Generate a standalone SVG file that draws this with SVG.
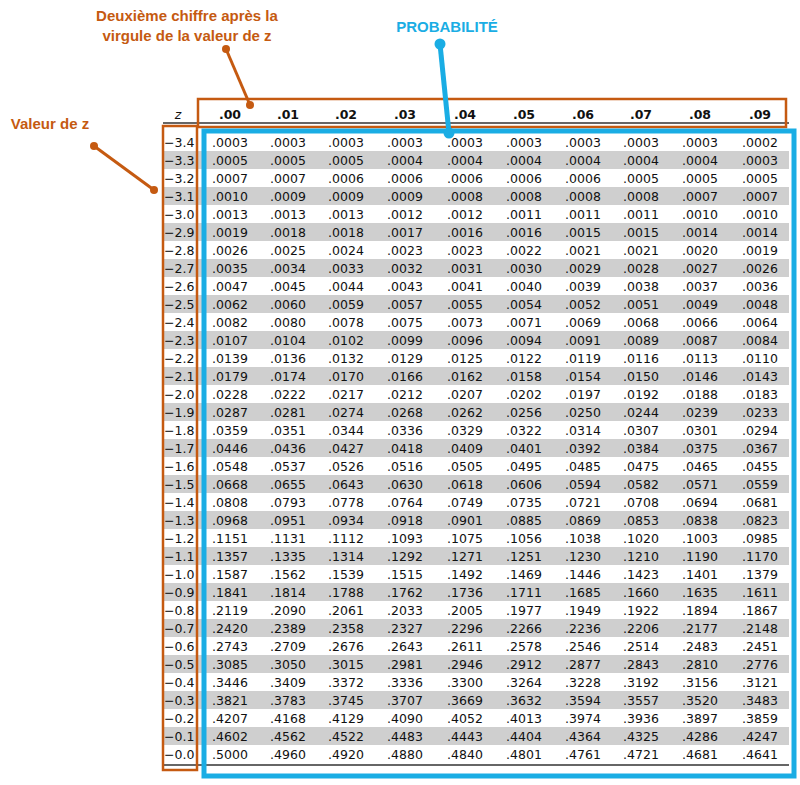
<svg xmlns="http://www.w3.org/2000/svg" width="800" height="785" viewBox="0 0 800 785">
<style>
.d{font-family:"DejaVu Sans",Verdana,sans-serif;font-size:12.5px;text-anchor:middle;fill:#111}
.h{font-family:"DejaVu Sans",Verdana,sans-serif;font-size:12.5px;font-weight:bold;text-anchor:middle;fill:#111}
.z{font-family:"DejaVu Sans",Verdana,sans-serif;font-size:12.5px;fill:#111}
.lo{font-family:"Liberation Sans",Arial,sans-serif;font-size:15px;font-weight:bold;fill:#C55A11;text-anchor:middle}
.lb{font-family:"Liberation Sans",Arial,sans-serif;font-size:15px;font-weight:bold;fill:#1AADE4;text-anchor:middle}
.g{fill:#cfcfcf}
</style>
<rect width="800" height="785" fill="#fff"/>
<g id="bands">
<rect class="g" x="163" y="151" width="626" height="18"/><rect class="g" x="163" y="187" width="626" height="18"/><rect class="g" x="163" y="223" width="626" height="18"/><rect class="g" x="163" y="259" width="626" height="18"/><rect class="g" x="163" y="295" width="626" height="18"/><rect class="g" x="163" y="331" width="626" height="18"/><rect class="g" x="163" y="367" width="626" height="18"/><rect class="g" x="163" y="403" width="626" height="18"/><rect class="g" x="163" y="439" width="626" height="18"/><rect class="g" x="163" y="475" width="626" height="18"/><rect class="g" x="163" y="511" width="626" height="18"/><rect class="g" x="163" y="547" width="626" height="18"/><rect class="g" x="163" y="583" width="626" height="18"/><rect class="g" x="163" y="619" width="626" height="18"/><rect class="g" x="163" y="655" width="626" height="18"/><rect class="g" x="163" y="691" width="626" height="18"/><rect class="g" x="163" y="727" width="626" height="18"/>
</g>
<g id="rules" stroke="#333" stroke-width="1.5">
<line x1="163" y1="123" x2="789" y2="123"/>
<line x1="163" y1="765" x2="789" y2="765"/>
</g>
<g id="header">
<text x="178" y="119" class="z" font-style="italic" text-anchor="middle">z</text>
<text class="h" y="119"><tspan x="230">.00</tspan><tspan x="288">.01</tspan><tspan x="346">.02</tspan><tspan x="405">.03</tspan><tspan x="465">.04</tspan><tspan x="524">.05</tspan><tspan x="583">.06</tspan><tspan x="641">.07</tspan><tspan x="700">.08</tspan><tspan x="760">.09</tspan></text>
</g>
<g id="data">
<text class="z" x="164" y="147">−3.4</text><text class="d" y="147"><tspan x="230">.0003</tspan><tspan x="288">.0003</tspan><tspan x="346">.0003</tspan><tspan x="405">.0003</tspan><tspan x="465">.0003</tspan><tspan x="524">.0003</tspan><tspan x="583">.0003</tspan><tspan x="641">.0003</tspan><tspan x="700">.0003</tspan><tspan x="760">.0002</tspan></text>
<text class="z" x="164" y="165">−3.3</text><text class="d" y="165"><tspan x="230">.0005</tspan><tspan x="288">.0005</tspan><tspan x="346">.0005</tspan><tspan x="405">.0004</tspan><tspan x="465">.0004</tspan><tspan x="524">.0004</tspan><tspan x="583">.0004</tspan><tspan x="641">.0004</tspan><tspan x="700">.0004</tspan><tspan x="760">.0003</tspan></text>
<text class="z" x="164" y="183">−3.2</text><text class="d" y="183"><tspan x="230">.0007</tspan><tspan x="288">.0007</tspan><tspan x="346">.0006</tspan><tspan x="405">.0006</tspan><tspan x="465">.0006</tspan><tspan x="524">.0006</tspan><tspan x="583">.0006</tspan><tspan x="641">.0005</tspan><tspan x="700">.0005</tspan><tspan x="760">.0005</tspan></text>
<text class="z" x="164" y="201">−3.1</text><text class="d" y="201"><tspan x="230">.0010</tspan><tspan x="288">.0009</tspan><tspan x="346">.0009</tspan><tspan x="405">.0009</tspan><tspan x="465">.0008</tspan><tspan x="524">.0008</tspan><tspan x="583">.0008</tspan><tspan x="641">.0008</tspan><tspan x="700">.0007</tspan><tspan x="760">.0007</tspan></text>
<text class="z" x="164" y="219">−3.0</text><text class="d" y="219"><tspan x="230">.0013</tspan><tspan x="288">.0013</tspan><tspan x="346">.0013</tspan><tspan x="405">.0012</tspan><tspan x="465">.0012</tspan><tspan x="524">.0011</tspan><tspan x="583">.0011</tspan><tspan x="641">.0011</tspan><tspan x="700">.0010</tspan><tspan x="760">.0010</tspan></text>
<text class="z" x="164" y="237">−2.9</text><text class="d" y="237"><tspan x="230">.0019</tspan><tspan x="288">.0018</tspan><tspan x="346">.0018</tspan><tspan x="405">.0017</tspan><tspan x="465">.0016</tspan><tspan x="524">.0016</tspan><tspan x="583">.0015</tspan><tspan x="641">.0015</tspan><tspan x="700">.0014</tspan><tspan x="760">.0014</tspan></text>
<text class="z" x="164" y="255">−2.8</text><text class="d" y="255"><tspan x="230">.0026</tspan><tspan x="288">.0025</tspan><tspan x="346">.0024</tspan><tspan x="405">.0023</tspan><tspan x="465">.0023</tspan><tspan x="524">.0022</tspan><tspan x="583">.0021</tspan><tspan x="641">.0021</tspan><tspan x="700">.0020</tspan><tspan x="760">.0019</tspan></text>
<text class="z" x="164" y="273">−2.7</text><text class="d" y="273"><tspan x="230">.0035</tspan><tspan x="288">.0034</tspan><tspan x="346">.0033</tspan><tspan x="405">.0032</tspan><tspan x="465">.0031</tspan><tspan x="524">.0030</tspan><tspan x="583">.0029</tspan><tspan x="641">.0028</tspan><tspan x="700">.0027</tspan><tspan x="760">.0026</tspan></text>
<text class="z" x="164" y="291">−2.6</text><text class="d" y="291"><tspan x="230">.0047</tspan><tspan x="288">.0045</tspan><tspan x="346">.0044</tspan><tspan x="405">.0043</tspan><tspan x="465">.0041</tspan><tspan x="524">.0040</tspan><tspan x="583">.0039</tspan><tspan x="641">.0038</tspan><tspan x="700">.0037</tspan><tspan x="760">.0036</tspan></text>
<text class="z" x="164" y="309">−2.5</text><text class="d" y="309"><tspan x="230">.0062</tspan><tspan x="288">.0060</tspan><tspan x="346">.0059</tspan><tspan x="405">.0057</tspan><tspan x="465">.0055</tspan><tspan x="524">.0054</tspan><tspan x="583">.0052</tspan><tspan x="641">.0051</tspan><tspan x="700">.0049</tspan><tspan x="760">.0048</tspan></text>
<text class="z" x="164" y="327">−2.4</text><text class="d" y="327"><tspan x="230">.0082</tspan><tspan x="288">.0080</tspan><tspan x="346">.0078</tspan><tspan x="405">.0075</tspan><tspan x="465">.0073</tspan><tspan x="524">.0071</tspan><tspan x="583">.0069</tspan><tspan x="641">.0068</tspan><tspan x="700">.0066</tspan><tspan x="760">.0064</tspan></text>
<text class="z" x="164" y="345">−2.3</text><text class="d" y="345"><tspan x="230">.0107</tspan><tspan x="288">.0104</tspan><tspan x="346">.0102</tspan><tspan x="405">.0099</tspan><tspan x="465">.0096</tspan><tspan x="524">.0094</tspan><tspan x="583">.0091</tspan><tspan x="641">.0089</tspan><tspan x="700">.0087</tspan><tspan x="760">.0084</tspan></text>
<text class="z" x="164" y="363">−2.2</text><text class="d" y="363"><tspan x="230">.0139</tspan><tspan x="288">.0136</tspan><tspan x="346">.0132</tspan><tspan x="405">.0129</tspan><tspan x="465">.0125</tspan><tspan x="524">.0122</tspan><tspan x="583">.0119</tspan><tspan x="641">.0116</tspan><tspan x="700">.0113</tspan><tspan x="760">.0110</tspan></text>
<text class="z" x="164" y="381">−2.1</text><text class="d" y="381"><tspan x="230">.0179</tspan><tspan x="288">.0174</tspan><tspan x="346">.0170</tspan><tspan x="405">.0166</tspan><tspan x="465">.0162</tspan><tspan x="524">.0158</tspan><tspan x="583">.0154</tspan><tspan x="641">.0150</tspan><tspan x="700">.0146</tspan><tspan x="760">.0143</tspan></text>
<text class="z" x="164" y="399">−2.0</text><text class="d" y="399"><tspan x="230">.0228</tspan><tspan x="288">.0222</tspan><tspan x="346">.0217</tspan><tspan x="405">.0212</tspan><tspan x="465">.0207</tspan><tspan x="524">.0202</tspan><tspan x="583">.0197</tspan><tspan x="641">.0192</tspan><tspan x="700">.0188</tspan><tspan x="760">.0183</tspan></text>
<text class="z" x="164" y="417">−1.9</text><text class="d" y="417"><tspan x="230">.0287</tspan><tspan x="288">.0281</tspan><tspan x="346">.0274</tspan><tspan x="405">.0268</tspan><tspan x="465">.0262</tspan><tspan x="524">.0256</tspan><tspan x="583">.0250</tspan><tspan x="641">.0244</tspan><tspan x="700">.0239</tspan><tspan x="760">.0233</tspan></text>
<text class="z" x="164" y="435">−1.8</text><text class="d" y="435"><tspan x="230">.0359</tspan><tspan x="288">.0351</tspan><tspan x="346">.0344</tspan><tspan x="405">.0336</tspan><tspan x="465">.0329</tspan><tspan x="524">.0322</tspan><tspan x="583">.0314</tspan><tspan x="641">.0307</tspan><tspan x="700">.0301</tspan><tspan x="760">.0294</tspan></text>
<text class="z" x="164" y="453">−1.7</text><text class="d" y="453"><tspan x="230">.0446</tspan><tspan x="288">.0436</tspan><tspan x="346">.0427</tspan><tspan x="405">.0418</tspan><tspan x="465">.0409</tspan><tspan x="524">.0401</tspan><tspan x="583">.0392</tspan><tspan x="641">.0384</tspan><tspan x="700">.0375</tspan><tspan x="760">.0367</tspan></text>
<text class="z" x="164" y="471">−1.6</text><text class="d" y="471"><tspan x="230">.0548</tspan><tspan x="288">.0537</tspan><tspan x="346">.0526</tspan><tspan x="405">.0516</tspan><tspan x="465">.0505</tspan><tspan x="524">.0495</tspan><tspan x="583">.0485</tspan><tspan x="641">.0475</tspan><tspan x="700">.0465</tspan><tspan x="760">.0455</tspan></text>
<text class="z" x="164" y="489">−1.5</text><text class="d" y="489"><tspan x="230">.0668</tspan><tspan x="288">.0655</tspan><tspan x="346">.0643</tspan><tspan x="405">.0630</tspan><tspan x="465">.0618</tspan><tspan x="524">.0606</tspan><tspan x="583">.0594</tspan><tspan x="641">.0582</tspan><tspan x="700">.0571</tspan><tspan x="760">.0559</tspan></text>
<text class="z" x="164" y="507">−1.4</text><text class="d" y="507"><tspan x="230">.0808</tspan><tspan x="288">.0793</tspan><tspan x="346">.0778</tspan><tspan x="405">.0764</tspan><tspan x="465">.0749</tspan><tspan x="524">.0735</tspan><tspan x="583">.0721</tspan><tspan x="641">.0708</tspan><tspan x="700">.0694</tspan><tspan x="760">.0681</tspan></text>
<text class="z" x="164" y="525">−1.3</text><text class="d" y="525"><tspan x="230">.0968</tspan><tspan x="288">.0951</tspan><tspan x="346">.0934</tspan><tspan x="405">.0918</tspan><tspan x="465">.0901</tspan><tspan x="524">.0885</tspan><tspan x="583">.0869</tspan><tspan x="641">.0853</tspan><tspan x="700">.0838</tspan><tspan x="760">.0823</tspan></text>
<text class="z" x="164" y="543">−1.2</text><text class="d" y="543"><tspan x="230">.1151</tspan><tspan x="288">.1131</tspan><tspan x="346">.1112</tspan><tspan x="405">.1093</tspan><tspan x="465">.1075</tspan><tspan x="524">.1056</tspan><tspan x="583">.1038</tspan><tspan x="641">.1020</tspan><tspan x="700">.1003</tspan><tspan x="760">.0985</tspan></text>
<text class="z" x="164" y="561">−1.1</text><text class="d" y="561"><tspan x="230">.1357</tspan><tspan x="288">.1335</tspan><tspan x="346">.1314</tspan><tspan x="405">.1292</tspan><tspan x="465">.1271</tspan><tspan x="524">.1251</tspan><tspan x="583">.1230</tspan><tspan x="641">.1210</tspan><tspan x="700">.1190</tspan><tspan x="760">.1170</tspan></text>
<text class="z" x="164" y="579">−1.0</text><text class="d" y="579"><tspan x="230">.1587</tspan><tspan x="288">.1562</tspan><tspan x="346">.1539</tspan><tspan x="405">.1515</tspan><tspan x="465">.1492</tspan><tspan x="524">.1469</tspan><tspan x="583">.1446</tspan><tspan x="641">.1423</tspan><tspan x="700">.1401</tspan><tspan x="760">.1379</tspan></text>
<text class="z" x="164" y="597">−0.9</text><text class="d" y="597"><tspan x="230">.1841</tspan><tspan x="288">.1814</tspan><tspan x="346">.1788</tspan><tspan x="405">.1762</tspan><tspan x="465">.1736</tspan><tspan x="524">.1711</tspan><tspan x="583">.1685</tspan><tspan x="641">.1660</tspan><tspan x="700">.1635</tspan><tspan x="760">.1611</tspan></text>
<text class="z" x="164" y="615">−0.8</text><text class="d" y="615"><tspan x="230">.2119</tspan><tspan x="288">.2090</tspan><tspan x="346">.2061</tspan><tspan x="405">.2033</tspan><tspan x="465">.2005</tspan><tspan x="524">.1977</tspan><tspan x="583">.1949</tspan><tspan x="641">.1922</tspan><tspan x="700">.1894</tspan><tspan x="760">.1867</tspan></text>
<text class="z" x="164" y="633">−0.7</text><text class="d" y="633"><tspan x="230">.2420</tspan><tspan x="288">.2389</tspan><tspan x="346">.2358</tspan><tspan x="405">.2327</tspan><tspan x="465">.2296</tspan><tspan x="524">.2266</tspan><tspan x="583">.2236</tspan><tspan x="641">.2206</tspan><tspan x="700">.2177</tspan><tspan x="760">.2148</tspan></text>
<text class="z" x="164" y="651">−0.6</text><text class="d" y="651"><tspan x="230">.2743</tspan><tspan x="288">.2709</tspan><tspan x="346">.2676</tspan><tspan x="405">.2643</tspan><tspan x="465">.2611</tspan><tspan x="524">.2578</tspan><tspan x="583">.2546</tspan><tspan x="641">.2514</tspan><tspan x="700">.2483</tspan><tspan x="760">.2451</tspan></text>
<text class="z" x="164" y="669">−0.5</text><text class="d" y="669"><tspan x="230">.3085</tspan><tspan x="288">.3050</tspan><tspan x="346">.3015</tspan><tspan x="405">.2981</tspan><tspan x="465">.2946</tspan><tspan x="524">.2912</tspan><tspan x="583">.2877</tspan><tspan x="641">.2843</tspan><tspan x="700">.2810</tspan><tspan x="760">.2776</tspan></text>
<text class="z" x="164" y="687">−0.4</text><text class="d" y="687"><tspan x="230">.3446</tspan><tspan x="288">.3409</tspan><tspan x="346">.3372</tspan><tspan x="405">.3336</tspan><tspan x="465">.3300</tspan><tspan x="524">.3264</tspan><tspan x="583">.3228</tspan><tspan x="641">.3192</tspan><tspan x="700">.3156</tspan><tspan x="760">.3121</tspan></text>
<text class="z" x="164" y="705">−0.3</text><text class="d" y="705"><tspan x="230">.3821</tspan><tspan x="288">.3783</tspan><tspan x="346">.3745</tspan><tspan x="405">.3707</tspan><tspan x="465">.3669</tspan><tspan x="524">.3632</tspan><tspan x="583">.3594</tspan><tspan x="641">.3557</tspan><tspan x="700">.3520</tspan><tspan x="760">.3483</tspan></text>
<text class="z" x="164" y="723">−0.2</text><text class="d" y="723"><tspan x="230">.4207</tspan><tspan x="288">.4168</tspan><tspan x="346">.4129</tspan><tspan x="405">.4090</tspan><tspan x="465">.4052</tspan><tspan x="524">.4013</tspan><tspan x="583">.3974</tspan><tspan x="641">.3936</tspan><tspan x="700">.3897</tspan><tspan x="760">.3859</tspan></text>
<text class="z" x="164" y="741">−0.1</text><text class="d" y="741"><tspan x="230">.4602</tspan><tspan x="288">.4562</tspan><tspan x="346">.4522</tspan><tspan x="405">.4483</tspan><tspan x="465">.4443</tspan><tspan x="524">.4404</tspan><tspan x="583">.4364</tspan><tspan x="641">.4325</tspan><tspan x="700">.4286</tspan><tspan x="760">.4247</tspan></text>
<text class="z" x="164" y="759">−0.0</text><text class="d" y="759"><tspan x="230">.5000</tspan><tspan x="288">.4960</tspan><tspan x="346">.4920</tspan><tspan x="405">.4880</tspan><tspan x="465">.4840</tspan><tspan x="524">.4801</tspan><tspan x="583">.4761</tspan><tspan x="641">.4721</tspan><tspan x="700">.4681</tspan><tspan x="760">.4641</tspan></text>
</g>
<g id="highlights" fill="none">
<rect x="198" y="99" width="588" height="28" stroke="#C55A11" stroke-width="2.5"/>
<rect x="163" y="126" width="34" height="644" stroke="#C55A11" stroke-width="2.5"/>
<rect x="204" y="131" width="590" height="645" stroke="#1AADE4" stroke-width="5"/>
</g>
<g id="connectors">
<line x1="226" y1="49" x2="250" y2="105" stroke="#C55A11" stroke-width="3"/>
<circle cx="226" cy="49" r="4" fill="#C55A11"/><circle cx="250" cy="105" r="4" fill="#C55A11"/>
<line x1="94" y1="146" x2="154" y2="190" stroke="#C55A11" stroke-width="3"/>
<circle cx="94" cy="146" r="4" fill="#C55A11"/><circle cx="154" cy="190" r="4" fill="#C55A11"/>
<line x1="440" y1="44" x2="449" y2="133" stroke="#1AADE4" stroke-width="5"/>
<circle cx="440" cy="44" r="5.5" fill="#1AADE4"/><circle cx="449" cy="133" r="5.5" fill="#1AADE4"/>
</g>
<g id="labels">
<text class="lo" x="187" y="21">Deuxième chiffre après la</text>
<text class="lo" x="187" y="41">virgule de la valeur de z</text>
<text class="lo" x="50" y="129">Valeur de z</text>
<text class="lb" x="447" y="32">PROBABILITÉ</text>
</g>
</svg>
